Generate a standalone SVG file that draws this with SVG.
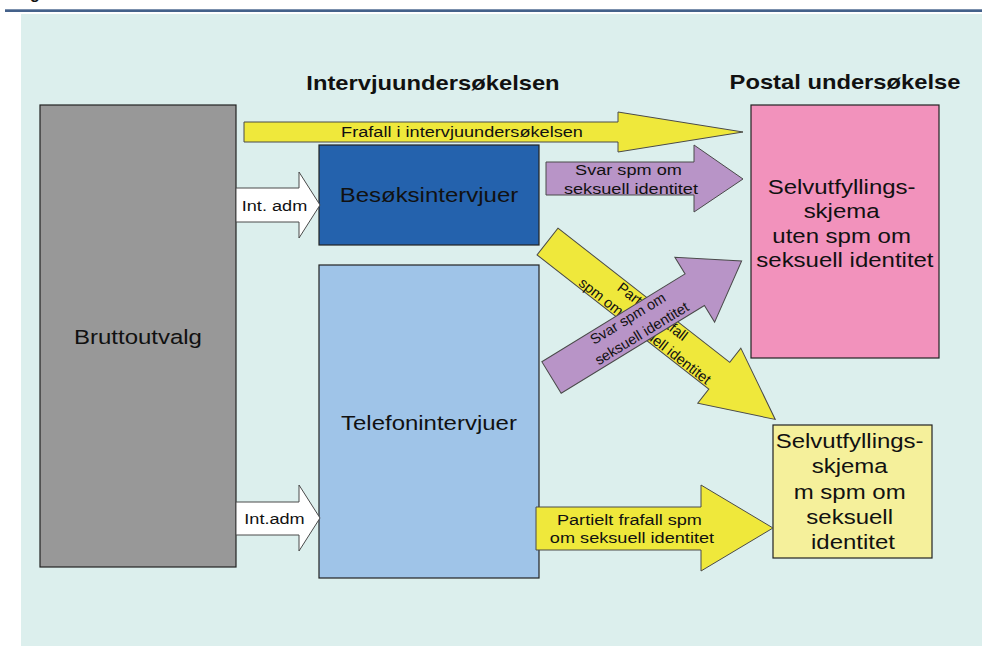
<svg xmlns="http://www.w3.org/2000/svg" width="982" height="646" viewBox="0 0 982 646">
  <style>
    text { font-family: "Liberation Sans", Arial, sans-serif; fill: #111; }
    .sx { transform-box: fill-box; transform-origin: center; transform: scaleX(1.17); }
    .head { font-size: 20.3px; font-weight: bold; text-anchor: middle; }
    .big { font-size: 20.5px; text-anchor: middle; }
    .small { font-size: 15.5px; text-anchor: middle; }
    .diag { font-size: 14.5px; text-anchor: middle; }
    .box { stroke: #222; stroke-width: 1.2; }
    .arrow { stroke: #4a4a4a; stroke-width: 1; stroke-linejoin: miter; }
    .yellow { fill: #efe83b; }
    .purple { fill: #b894c7; }
    .white { fill: #ffffff; }
  </style>

  <!-- caption descender and rule above the figure panel -->
  <text x="35" y="-1.5" font-size="16" font-weight="bold" text-anchor="middle">g</text>
  <rect x="5" y="9.3" width="977" height="2.7" fill="#44618a"/>

  <!-- figure panel -->
  <rect x="21" y="14" width="961" height="632" fill="#dcefed"/>

  <!-- column headings -->
  <text class="head sx" x="433" y="90">Intervjuundersøkelsen</text>
  <text class="head sx" x="845" y="89">Postal undersøkelse</text>

  <!-- nodes -->
  <g id="bruttoutvalg">
    <rect class="box" x="40" y="105" width="196" height="462" fill="#989898"/>
    <text class="big sx" x="138" y="344">Bruttoutvalg</text>
  </g>

  <g id="besoksintervjuer">
    <rect class="box" x="319" y="145" width="220" height="100" fill="#2462ad"/>
    <text class="big sx" x="429" y="202">Besøksintervjuer</text>
  </g>

  <g id="telefonintervjuer">
    <rect class="box" x="319" y="265" width="220" height="313" fill="#9fc4e8"/>
    <text class="big sx" x="429" y="430">Telefonintervjuer</text>
  </g>

  <g id="skjema-uten">
    <rect class="box" x="751" y="105" width="188" height="253" fill="#f292bc"/>
    <text class="big sx" x="845" y="194">
      <tspan x="845">Selvutfyllings-</tspan>
      <tspan x="845" dy="24.5">skjema</tspan>
      <tspan x="845" dy="24.5">uten spm om</tspan>
      <tspan x="845" dy="24.5">seksuell identitet</tspan>
    </text>
  </g>

  <g id="skjema-med">
    <rect class="box" x="773" y="425" width="159" height="133" fill="#f5f09b"/>
    <text class="big sx" x="853" y="448">
      <tspan x="853">Selvutfyllings-</tspan>
      <tspan x="853" dy="25.5">skjema</tspan>
      <tspan x="853" dy="25.5">m spm om</tspan>
      <tspan x="853" dy="25">seksuell</tspan>
      <tspan x="853" dy="25.5">identitet</tspan>
    </text>
  </g>

  <!-- block arrows between the stages -->
  <g id="connectors">
    <!-- nonresponse in the interview survey -->
    <g id="frafall">
      <polygon class="arrow yellow" points="244,122 618,122 618,112 743,132 618,152 618,142 244,142"/>
      <text class="small sx" x="462" y="137.5">Frafall i intervjuundersøkelsen</text>
    </g>

    <!-- administration into the two interview modes -->
    <g id="int-adm-1">
      <polygon class="arrow white" points="236,188 299,188 299,172 320,205 299,238 299,222 236,222"/>
      <text class="small sx" x="274.5" y="211">Int. adm</text>
    </g>
    <g id="int-adm-2">
      <polygon class="arrow white" points="236,502 299,502 299,485 320,518 299,551 299,535 236,535"/>
      <text class="small sx" x="274.5" y="524">Int.adm</text>
    </g>

    <!-- visit interviews answered: to the form without the question -->
    <g id="svar-besok">
      <polygon class="arrow purple" points="546,162 694,162 694,145 743,179 694,212 694,195 546,195"/>
      <text class="small sx" x="631" y="175">
        <tspan x="631">Svar spm om</tspan>
        <tspan x="631" dy="19">seksuell identitet</tspan>
      </text>
    </g>

    <!-- visit interviews, partial nonresponse: to the form with the question -->
    <g id="partielt-besok" transform="translate(547.5,241.5) rotate(38)">
      <polygon class="arrow yellow" points="0,-17 218,-17 218,-35 289,0 218,35 218,17 0,17"/>
      <text class="diag" x="130" y="-4.5">
        <tspan x="128">Partielt frafall</tspan>
        <tspan x="132" dy="20">spm om seksuell identitet</tspan>
      </text>
    </g>

    <!-- telephone interviews answered: to the form without the question -->
    <g id="svar-telefon" transform="translate(551.5,377.5) rotate(-31.5)">
      <polygon class="arrow purple" points="0,-18.5 168,-18.5 168,-38 223,0 168,38 168,18.5 0,18.5"/>
      <text class="diag" x="98" y="-5.5">
        <tspan x="98">Svar spm om</tspan>
        <tspan x="100" dy="20">seksuell identitet</tspan>
      </text>
    </g>

    <!-- telephone interviews, partial nonresponse: to the form with the question -->
    <g id="partielt-telefon">
      <polygon class="arrow yellow" points="536,507 701,507 701,485 773,528 701,571 701,550 536,550"/>
      <text class="small sx" x="632" y="525">
        <tspan x="632">Partielt frafall spm</tspan>
        <tspan x="632" dy="18.3">om seksuell identitet</tspan>
      </text>
    </g>
  </g>
</svg>
